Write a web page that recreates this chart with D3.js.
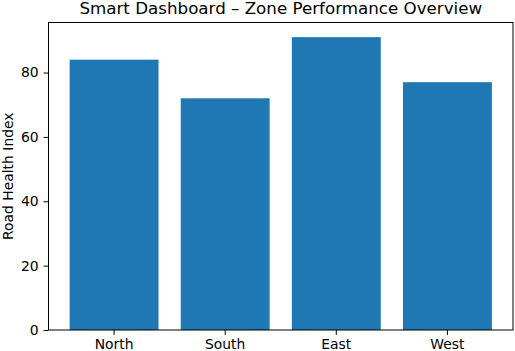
<!DOCTYPE html>
<html>
<head>
    <meta charset="utf-8">
    <script src="https://d3js.org/d3.v7.min.js"></script>
    <style>
        html, body { margin: 0; padding: 0; background: white; }
        text { font-family: 'DejaVu Sans', sans-serif; fill: black; }
    </style>
</head>
<body>
    <div id="chart"></div>
    <script>
        // Data
        const zones = ["North", "South", "East", "West"];
        const healthIndex = [84, 72, 91, 77];
        const yTicks = [0, 20, 40, 60, 80];

        const W = 515, H = 351;
        const margin = { top: 22.5, right: 2, bottom: 21, left: 48.5 };

        const svg = d3.select("#chart")
            .append("svg")
            .attr("width", W)
            .attr("height", H);

        // x: band scale mimicking matplotlib bar width 0.8 with 5% margins
        const x = d3.scaleBand()
            .domain(zones)
            .range([margin.left, W - margin.right])
            .paddingInner(0.2)
            .paddingOuter(0.19);

        const yMax = d3.max(healthIndex) * 1.05;
        const y = d3.scaleLinear()
            .domain([0, yMax])
            .range([H - margin.bottom, margin.top]);

        // Bars
        svg.selectAll("rect.bar")
            .data(zones)
            .enter()
            .append("rect")
            .attr("class", "bar")
            .attr("x", d => x(d))
            .attr("y", (d, i) => y(healthIndex[i]))
            .attr("width", x.bandwidth())
            .attr("height", (d, i) => y(0) - y(healthIndex[i]))
            .attr("fill", "#1f77b4");

        // Axes
        const xAxis = svg.append("g")
            .attr("transform", `translate(0,${H - margin.bottom})`)
            .call(d3.axisBottom(x).tickSize(4.9).tickPadding(4.5).tickSizeOuter(0));

        const yAxis = svg.append("g")
            .attr("transform", `translate(${margin.left},0)`)
            .call(d3.axisLeft(y).tickValues(yTicks).tickSize(4.9).tickPadding(4.9).tickSizeOuter(0));

        [xAxis, yAxis].forEach(g => {
            g.selectAll("text").style("font-size", "13.9px").style("font-family", "'DejaVu Sans', sans-serif");
            g.selectAll("line").attr("stroke", "black").attr("stroke-width", 1);
            g.select(".domain").remove();
        });

        // Frame (spines)
        svg.append("rect")
            .attr("x", margin.left)
            .attr("y", margin.top)
            .attr("width", W - margin.right - margin.left)
            .attr("height", H - margin.bottom - margin.top)
            .attr("fill", "none")
            .attr("stroke", "black")
            .attr("stroke-width", 1);

        // Title
        svg.append("text")
            .attr("x", (margin.left + W - margin.right) / 2)
            .attr("y", 14)
            .attr("text-anchor", "middle")
            .style("font-size", "16.7px")
            .text("Smart Dashboard \u2013 Zone Performance Overview");

        // Y label
        svg.append("text")
            .attr("transform", `translate(12.5,${(margin.top + H - margin.bottom) / 2}) rotate(-90)`)
            .attr("text-anchor", "middle")
            .style("font-size", "13.9px")
            .text("Road Health Index");
    </script>
</body>
</html>
